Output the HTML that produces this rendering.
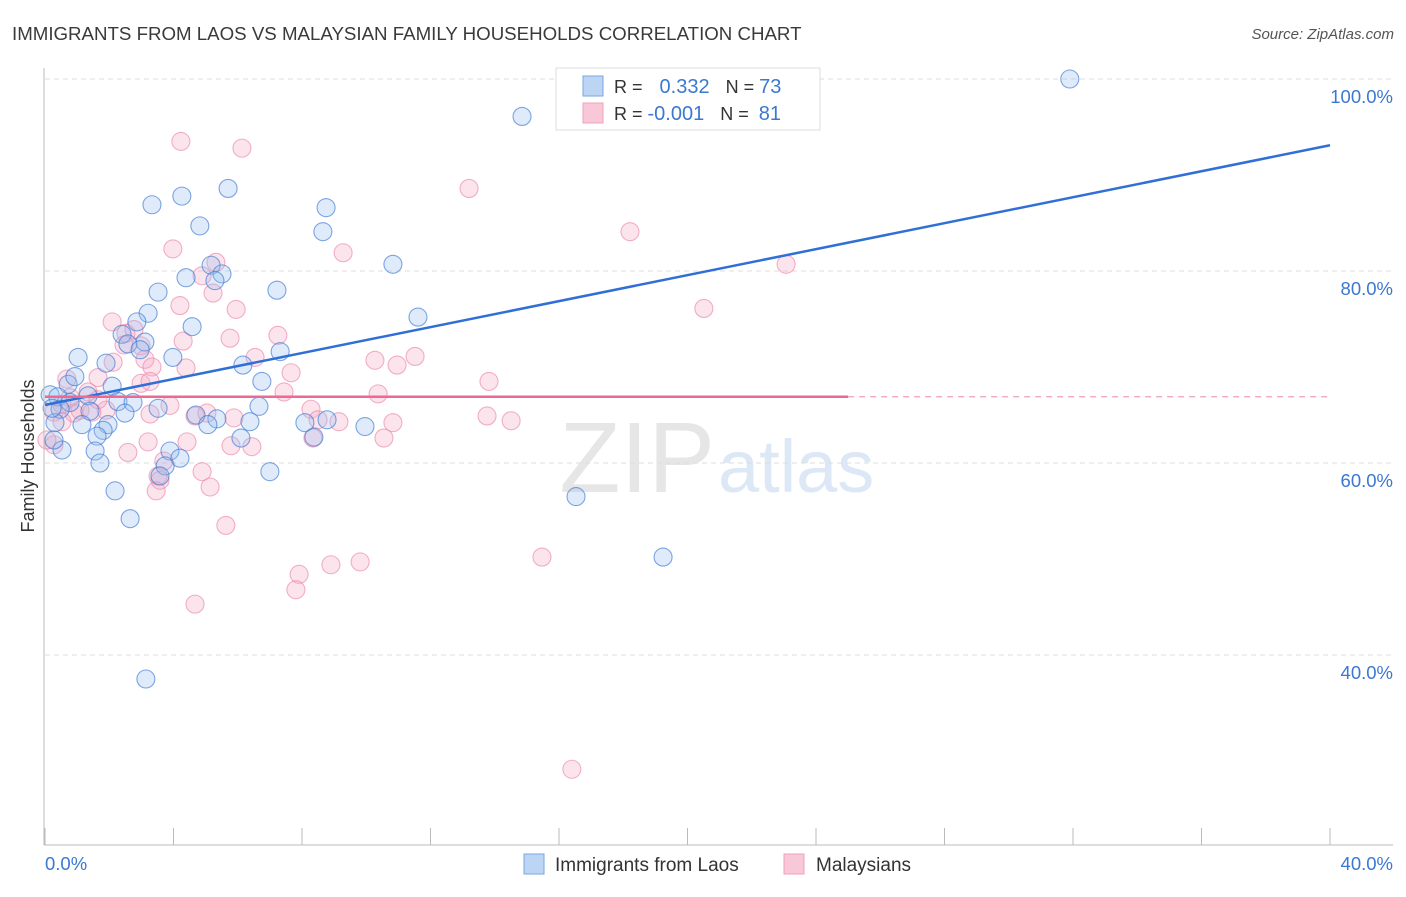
<!DOCTYPE html>
<html><head><meta charset="utf-8"><style>
body{margin:0;background:#fff;font-family:"Liberation Sans",sans-serif}
svg text{font-family:"Liberation Sans",sans-serif}
</style></head><body>
<svg id="c" width="1406" height="892">
<text x="12" y="40" font-size="18.7" fill="#3a3a3a">IMMIGRANTS FROM LAOS VS MALAYSIAN FAMILY HOUSEHOLDS CORRELATION CHART</text>
<text x="1394" y="39" font-size="15" fill="#555" font-style="italic" text-anchor="end">Source: ZipAtlas.com</text>
<text x="715" y="492" font-size="100" fill="#e6e6e6" text-anchor="end" font-family="Liberation Serif">ZIP</text>
<text x="718" y="492" font-size="74" fill="#dce8f6">atlas</text>
<g id="grid"></g><g id="pts"></g><g id="lines"></g>
<line x1="44" y1="68" x2="44" y2="845" stroke="#bbb"/>
<line x1="44" y1="845" x2="1393" y2="845" stroke="#bbb"/>
<text x="45" y="870" font-size="18.5" fill="#3b78d0">0.0%</text>
<text x="1393" y="870" font-size="18.5" fill="#3b78d0" text-anchor="end">40.0%</text>
<text x="34" y="456" font-size="18" fill="#333" text-anchor="middle" transform="rotate(-90 34 456)">Family Households</text>
<g>
<rect x="556" y="68" width="264" height="62" fill="#fff" stroke="#ddd"/>
<rect x="583" y="76" width="20" height="20" fill="#bcd5f5" stroke="#7aa7e0"/>
<rect x="583" y="103" width="20" height="20" fill="#f9c8d8" stroke="#eea0ba"/>
<text x="614" y="93" font-size="18" fill="#333">R = <tspan fill="#3b78d0" dx="12" font-size="20">0.332</tspan><tspan fill="#333" dx="16">N = </tspan><tspan fill="#3b78d0" font-size="20">73</tspan></text>
<text x="614" y="120" font-size="18" fill="#333">R = <tspan fill="#3b78d0" font-size="20">-0.001</tspan><tspan fill="#333" dx="16">N = </tspan><tspan fill="#3b78d0" dx="5" font-size="20">81</tspan></text>
</g>
<g>
<rect x="524" y="854" width="20" height="20" fill="#bcd5f5" stroke="#7aa7e0"/>
<text x="555" y="871" font-size="19" fill="#333">Immigrants from Laos</text>
<rect x="784" y="854" width="20" height="20" fill="#f9c8d8" stroke="#eea0ba"/>
<text x="816" y="871" font-size="19" fill="#333">Malaysians</text>
</g>
</svg>
<script>
const yTicks=[100,80,60,40];
const yTickLabels=["100.0%","80.0%","60.0%","40.0%"];
const xTicks=[0,4,8,12,16,20,24,28,32,36,40];
const laosX=[31.9,14.85,3.33,4.26,5.70,8.75,8.65,4.82,10.83,5.17,5.51,4.39,5.29,3.52,7.22,3.21,2.86,4.58,11.61,2.40,3.11,2.58,2.96,3.98,1.03,1.90,6.16,7.32,6.75,0.72,2.09,0.93,0.16,0.40,1.34,0.78,1.40,0.47,2.27,3.52,2.74,2.49,4.70,5.35,5.07,1.15,1.96,0.31,1.81,1.62,6.66,6.38,8.09,8.78,8.37,9.96,6.10,3.89,4.20,1.56,0.53,1.71,3.74,3.58,7.00,2.18,16.53,2.65,19.24,3.14,0.28,0.22];
const laosY=[100.0,96.1,86.9,87.8,88.6,86.6,84.1,84.7,80.7,80.6,79.7,79.3,79.0,77.8,78.0,75.6,74.7,74.2,75.2,73.4,72.6,72.4,71.8,71.0,71.0,70.4,70.2,71.6,68.5,68.2,68.0,69.0,67.1,66.9,67.0,66.3,65.4,65.6,66.4,65.7,66.3,65.2,65.0,64.6,64.0,64.0,64.0,64.2,63.4,62.8,65.9,64.3,64.2,64.5,62.7,63.8,62.6,61.25,60.5,61.25,61.35,60.0,59.7,58.65,59.1,57.1,56.5,54.2,50.2,37.5,62.4,65.7];
const malX=[4.23,6.13,13.20,18.21,3.98,9.28,23.07,5.32,4.89,5.23,4.20,5.95,20.51,2.09,7.25,2.52,2.77,4.30,2.46,2.99,10.27,11.52,10.96,6.54,2.12,3.11,3.33,7.66,1.65,0.68,2.99,13.82,10.37,7.44,1.34,0.53,0.28,1.09,1.90,0.90,1.46,3.89,4.67,5.04,8.28,8.50,9.15,10.83,13.76,14.51,5.88,3.27,10.55,8.34,4.42,3.21,2.58,5.79,6.44,3.70,3.52,4.89,3.58,5.14,3.46,5.63,0.28,0.06,15.47,9.81,8.90,7.91,7.81,4.67,16.40,0.53,0.78,1.65,5.76,4.39,3.27];
const malY=[93.5,92.8,88.6,84.1,82.3,81.9,80.7,80.9,79.5,77.7,76.4,76.0,76.1,74.7,73.3,73.5,73.9,72.7,72.3,72.2,70.7,71.1,70.2,71.0,70.5,70.8,70.0,69.4,68.9,68.75,68.3,68.5,67.2,67.4,67.4,66.1,65.3,65.5,65.5,65.2,65.3,66.0,64.9,65.2,65.6,64.5,64.3,64.2,64.9,64.4,64.7,65.1,62.6,62.6,62.2,62.2,61.1,61.8,61.7,60.2,58.65,59.1,58.2,57.5,57.1,53.5,61.9,62.4,50.2,49.7,49.4,48.4,46.8,45.3,28.1,64.3,66.8,66.6,73.0,69.9,68.5];
const laosFit=[66.04,93.1];
const malFit=66.9;
const NS="http://www.w3.org/2000/svg";
const sx=v=>45+v*32.125, sy=v=>79+(100-v)*9.6;
function mk(t,a,p){const e=document.createElementNS(NS,t);for(const k in a)e.setAttribute(k,a[k]);p.appendChild(e);return e;}
const grid=document.getElementById('grid');
yTicks.forEach((t,i)=>{
 const l=mk('line',{x1:45,x2:1393,y1:sy(t),y2:sy(t),stroke:'#ddd','stroke-dasharray':'5,4'},grid);
 
 
 const tx=mk('text',{x:1393,y:sy(t)+24,'font-size':18.5,fill:'#3b78d0','text-anchor':'end'},grid);
 tx.textContent=yTickLabels[i];
 
 
});
xTicks.forEach(t=>{
 const l=mk('line',{x1:sx(t),x2:sx(t),y1:828,y2:845,stroke:'#bbb'},grid);
 
 
});
const pts=document.getElementById('pts');
malX.forEach((x,i)=>{
 const c=mk('circle',{cx:sx(x),cy:sy(malY[i]),r:9,fill:'rgba(244,165,195,0.3)',stroke:'rgba(235,135,170,0.65)','stroke-width':1.1},pts);
 
 
});
laosX.forEach((x,i)=>{
 const c=mk('circle',{cx:sx(x),cy:sy(laosY[i]),r:9,fill:'rgba(150,190,240,0.3)',stroke:'rgba(60,120,210,0.65)','stroke-width':1.1},pts);
 
 
});
const lines=document.getElementById('lines');
let a=mk('line',{x1:sx(0),y1:sy(laosFit[0]),x2:sx(40),y2:sy(laosFit[1]),stroke:'#2f6fd6','stroke-width':2.5},lines);


let b=mk('line',{x1:sx(0),y1:sy(malFit),x2:sx(25),y2:sy(malFit),stroke:'#ec6a91','stroke-width':2.5},lines);


let d=mk('line',{x1:sx(25),y1:sy(malFit),x2:sx(40),y2:sy(malFit),stroke:'#f0a0b8','stroke-width':1.2,'stroke-dasharray':'6,5'},lines);


</script>
</body></html>
